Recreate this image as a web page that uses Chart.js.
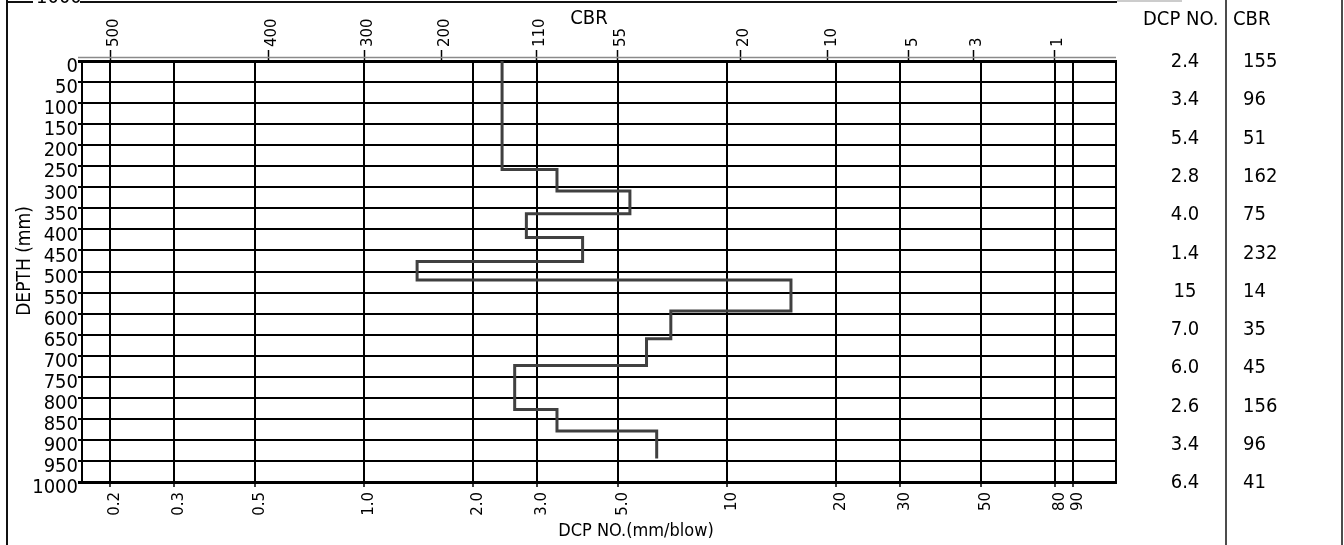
<!DOCTYPE html>
<html>
<head>
<meta charset="utf-8">
<script src="https://cdn.jsdelivr.net/npm/chart.js@4.4.1/dist/chart.umd.min.js"></script>
<style>
html,body{margin:0;padding:0;background:#fff;}
#wrap{position:relative;width:1344px;height:545px;overflow:hidden;}
canvas{display:block;}
</style>
</head>
<body>
<div id="wrap"><canvas id="c" width="1344" height="545"></canvas></div>
<script>
// ---- data ----
const layerTopDepths = [0, 258, 309, 363, 419, 476, 520, 594, 660, 723, 828, 879];
const layerBottomDepth = 944;
const dcpValues = [2.4, 3.4, 5.4, 2.8, 4.0, 1.4, 15, 7.0, 6.0, 2.6, 3.4, 6.4];
const dcpTableLabels = ['2.4', '3.4', '5.4', '2.8', '4.0', '1.4', '15', '7.0', '6.0', '2.6', '3.4', '6.4'];
const cbrValues = [155, 96, 51, 162, 75, 232, 14, 35, 45, 156, 96, 41];
const dcpTickValues = [0.2, 0.3, 0.5, 1, 2, 3, 5, 10, 20, 30, 50, 80, 90];
const dcpTickLabels = ['0.2', '0.3', '0.5', '1.0', '2.0', '3.0', '5.0', '10', '20', '30', '50', '80', '90'];
const cbrTickLabels = ['500', '400', '300', '200', '110', '55', '20', '10', '5', '3', '1'];
const cbrTickAtDcp = [0.2, 0.544, 1.0, 1.63, 2.98, 4.98, 10.86, 18.97, 31.7, 47.6, 79.6];
const depthMin = 0, depthMax = 1000, depthStep = 50;
const dcpMin = 0.1671, dcpMax = 117.9;

// ---- build profile points from layers ----
const profile = [];
dcpValues.forEach((v, i) => {
  const top = layerTopDepths[i];
  const bot = i + 1 < layerTopDepths.length ? layerTopDepths[i + 1] : layerBottomDepth;
  profile.push({x: v, y: top});
  profile.push({x: v, y: bot});
});

const COND = '"DejaVu Sans Condensed", "DejaVu Sans", sans-serif';
const SANS = '"DejaVu Sans", Verdana, sans-serif';

const framePlugin = {
  id: 'frame',
  beforeDraw(chart) {
    const ctx = chart.ctx;
    ctx.save();
    ctx.fillStyle = '#fff';
    ctx.fillRect(0, 0, chart.width, chart.height);
    ctx.restore();
  },
  afterDraw(chart) {
    const ctx = chart.ctx, a = chart.chartArea, ys = chart.scales.y;
    const ln = (x1, y1, x2, y2) => { ctx.beginPath(); ctx.moveTo(x1, y1); ctx.lineTo(x2, y2); ctx.stroke(); };
    ctx.save();
    // plot right border
    ctx.strokeStyle = '#000'; ctx.lineWidth = 2;
    ln(a.right, a.top - 1, a.right, a.bottom + 1);
    // top double line
    ctx.strokeStyle = '#8a8a8a'; ctx.lineWidth = 1.5;
    ln(a.left - 4, a.top - 3.5, a.right, a.top - 3.5);
    // outer frame
    ctx.strokeStyle = '#111'; ctx.lineWidth = 2;
    ln(7, 0, 7, 545);
    ln(7, 2, 33, 2);
    ln(80, 2, 1117, 2);
    ctx.strokeStyle = '#999'; ctx.lineWidth = 1;
    ln(1117, 1, 1182, 1);
    ctx.strokeStyle = '#111'; ctx.lineWidth = 1.5;
    ln(1226, 0, 1226, 545);
    ln(1342, 0, 1342, 545);
    // cut-off text at top-left
    ctx.fillStyle = '#000';
    ctx.font = '20px ' + COND;
    ctx.textAlign = 'left'; ctx.textBaseline = 'alphabetic';
    ctx.fillText('1000', 36, 3);
    // titles
    ctx.textAlign = 'center'; ctx.textBaseline = 'middle';
    ctx.font = '20px ' + COND;
    ctx.fillText('CBR', 589, 19);
    ctx.font = '18px ' + COND;
    ctx.fillText('DCP NO.(mm/blow)', 636, 531);
    ctx.save();
    ctx.translate(25, 261);
    ctx.rotate(-Math.PI / 2);
    ctx.font = '19px ' + COND;
    ctx.fillText('DEPTH (mm)', 0, 0);
    ctx.restore();
    // table
    ctx.font = '20px ' + COND;
    ctx.textAlign = 'left';
    ctx.fillText('DCP NO.', 1143, 20);
    ctx.fillText('CBR', 1233, 20);
    const n = dcpTableLabels.length;
    for (let i = 0; i < n; i++) {
      const y = ys.getPixelForValue(depthMin + i * (depthMax - depthMin) / (n - 1)) + 1;
      ctx.textAlign = 'center';
      ctx.fillText(dcpTableLabels[i], 1185, y);
      ctx.textAlign = 'left';
      ctx.fillText(String(cbrValues[i]), 1243, y);
    }
    ctx.restore();
  }
};

new Chart(document.getElementById('c'), {
  type: 'line',
  data: {
    datasets: [{
      data: profile,
      xAxisID: 'x',
      yAxisID: 'y',
      borderColor: '#404040',
      borderWidth: 3,
      pointRadius: 0,
      tension: 0,
      fill: false,
      borderJoinStyle: 'miter'
    }]
  },
  options: {
    responsive: false,
    animation: false,
    devicePixelRatio: 1,
    layout: {padding: {left: 0, top: 0, bottom: 0, right: 228}},
    plugins: {legend: {display: false}, tooltip: {enabled: false}, title: {display: false}},
    scales: {
      x: {
        type: 'logarithmic',
        position: 'bottom',
        min: dcpMin, max: dcpMax,
        bounds: 'data',
        afterBuildTicks: s => { s.ticks = dcpTickValues.map(v => ({value: v})); },
        afterFit: s => { s.height = 63; },
        ticks: {
          autoSkip: false, minRotation: 90, maxRotation: 90,
          padding: 5, labelOffset: 5,
          color: '#000', font: {family: SANS, size: 15},
          callback: (v, i) => dcpTickLabels[i]
        },
        grid: {color: '#000', lineWidth: 2, drawTicks: true, tickLength: 5, tickColor: '#000', tickWidth: 1.5},
        border: {display: true, color: '#000', width: 3}
      },
      x2: {
        type: 'logarithmic',
        position: 'top',
        min: dcpMin, max: dcpMax,
        bounds: 'data',
        afterBuildTicks: s => { s.ticks = cbrTickAtDcp.map(v => ({value: v})); },
        afterFit: s => { s.height = 61; },
        ticks: {
          autoSkip: false, minRotation: 90, maxRotation: 90,
          padding: 3, labelOffset: 22,
          color: '#000', font: {family: SANS, size: 15},
          callback: (v, i) => cbrTickLabels[i]
        },
        grid: {display: true, drawOnChartArea: false, drawTicks: true, tickLength: 11, tickColor: '#000', tickWidth: 1.5},
        border: {display: false}
      },
      y: {
        type: 'linear',
        position: 'left',
        reverse: true,
        min: depthMin, max: depthMax,
        afterFit: s => { s.width = 82; },
        ticks: {
          stepSize: depthStep, autoSkip: false,
          padding: 0, labelOffset: 6,
          color: '#000', font: {family: COND, size: 20},
          callback: v => String(v)
        },
        grid: {
          color: '#000',
          lineWidth: c => (c.tick && (c.tick.value === depthMin || c.tick.value === depthMax)) ? 3 : 2,
          drawTicks: true, tickLength: 4, tickColor: '#000'
        },
        border: {display: true, color: '#000', width: 2}
      }
    }
  },
  plugins: [framePlugin]
});
</script>
</body>
</html>
